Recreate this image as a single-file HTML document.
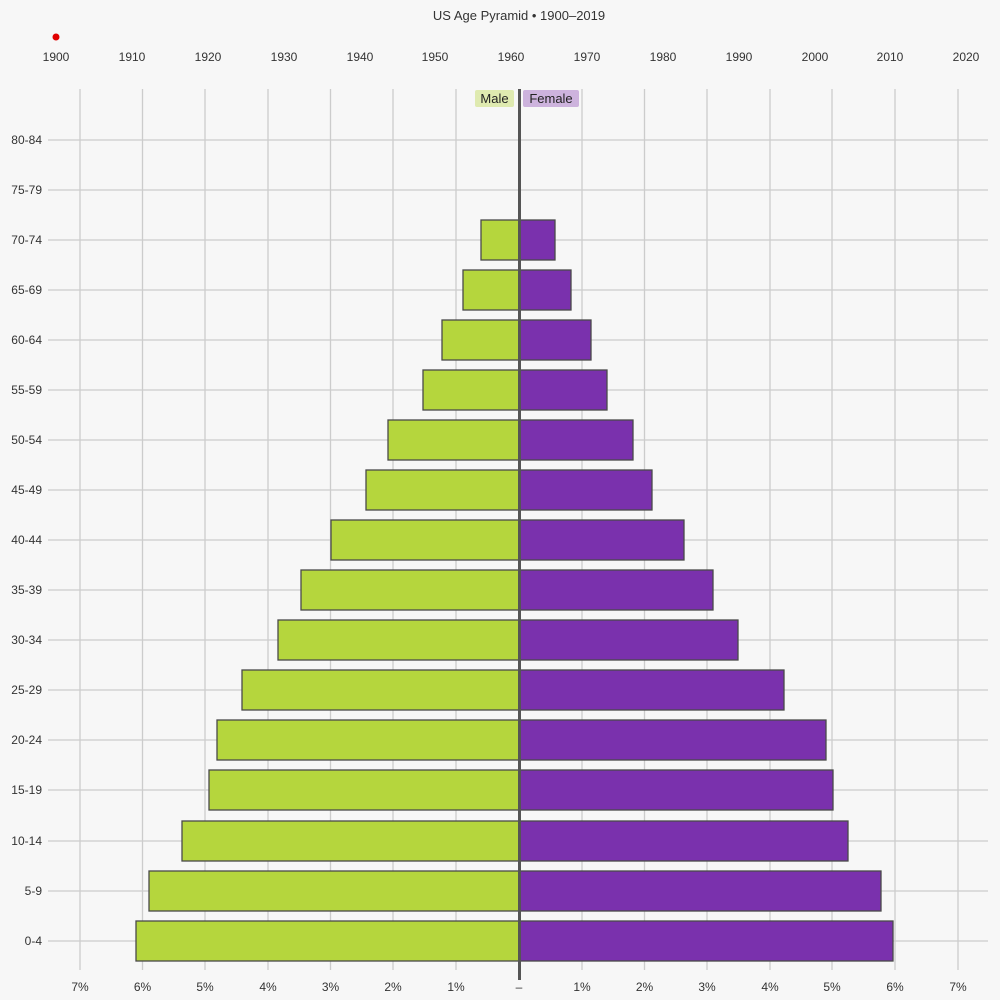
<!DOCTYPE html>
<html><head><meta charset="utf-8"><style>
html,body{margin:0;padding:0;background:#f7f7f7;}
svg{display:block;font-family:"Liberation Sans",sans-serif;}
</style></head><body>
<svg width="1000" height="1000" viewBox="0 0 1000 1000">
<rect width="1000" height="1000" fill="#f7f7f7"/>
<text x="519" y="20" text-anchor="middle" font-size="13" fill="#333">US Age Pyramid • 1900–2019</text>
<circle cx="56" cy="37" r="3.5" fill="#e00000"/>
<g font-size="12" fill="#333" text-anchor="middle">
<text x="56" y="61">1900</text><text x="132" y="61">1910</text><text x="208" y="61">1920</text><text x="284" y="61">1930</text><text x="360" y="61">1940</text><text x="435" y="61">1950</text><text x="511" y="61">1960</text><text x="587" y="61">1970</text><text x="663" y="61">1980</text><text x="739" y="61">1990</text><text x="815" y="61">2000</text><text x="890" y="61">2010</text><text x="966" y="61">2020</text>
</g>
<g stroke="#cccccc" stroke-width="1.3">
<line x1="80" y1="89" x2="80" y2="970"/><line x1="142.5" y1="89" x2="142.5" y2="970"/><line x1="205" y1="89" x2="205" y2="970"/><line x1="268" y1="89" x2="268" y2="970"/><line x1="330.5" y1="89" x2="330.5" y2="970"/><line x1="393" y1="89" x2="393" y2="970"/><line x1="456" y1="89" x2="456" y2="970"/><line x1="582" y1="89" x2="582" y2="970"/><line x1="644.5" y1="89" x2="644.5" y2="970"/><line x1="707" y1="89" x2="707" y2="970"/><line x1="770" y1="89" x2="770" y2="970"/><line x1="832" y1="89" x2="832" y2="970"/><line x1="895" y1="89" x2="895" y2="970"/><line x1="958" y1="89" x2="958" y2="970"/>
<line x1="48" y1="140" x2="988" y2="140"/><line x1="48" y1="190" x2="988" y2="190"/><line x1="48" y1="240" x2="988" y2="240"/><line x1="48" y1="290" x2="988" y2="290"/><line x1="48" y1="340" x2="988" y2="340"/><line x1="48" y1="390" x2="988" y2="390"/><line x1="48" y1="440" x2="988" y2="440"/><line x1="48" y1="490" x2="988" y2="490"/><line x1="48" y1="540" x2="988" y2="540"/><line x1="48" y1="590" x2="988" y2="590"/><line x1="48" y1="640" x2="988" y2="640"/><line x1="48" y1="690" x2="988" y2="690"/><line x1="48" y1="740" x2="988" y2="740"/><line x1="48" y1="790" x2="988" y2="790"/><line x1="48" y1="841" x2="988" y2="841"/><line x1="48" y1="891" x2="988" y2="891"/><line x1="48" y1="941" x2="988" y2="941"/>
</g>
<g font-size="12" fill="#333" text-anchor="end">
<text x="42" y="144">80-84</text><text x="42" y="194">75-79</text><text x="42" y="244">70-74</text><text x="42" y="294">65-69</text><text x="42" y="344">60-64</text><text x="42" y="394">55-59</text><text x="42" y="444">50-54</text><text x="42" y="494">45-49</text><text x="42" y="544">40-44</text><text x="42" y="594">35-39</text><text x="42" y="644">30-34</text><text x="42" y="694">25-29</text><text x="42" y="744">20-24</text><text x="42" y="794">15-19</text><text x="42" y="845">10-14</text><text x="42" y="895">5-9</text><text x="42" y="945">0-4</text>
</g>
<g fill="#b5d63d" stroke="#4a4a4a" stroke-width="1.3">
<rect x="481" y="220" width="38" height="40"/>
<rect x="463" y="270" width="56" height="40"/>
<rect x="442" y="320" width="77" height="40"/>
<rect x="423" y="370" width="96" height="40"/>
<rect x="388" y="420" width="131" height="40"/>
<rect x="366" y="470" width="153" height="40"/>
<rect x="331" y="520" width="188" height="40"/>
<rect x="301" y="570" width="218" height="40"/>
<rect x="278" y="620" width="241" height="40"/>
<rect x="242" y="670" width="277" height="40"/>
<rect x="217" y="720" width="302" height="40"/>
<rect x="209" y="770" width="310" height="40"/>
<rect x="182" y="821" width="337" height="40"/>
<rect x="149" y="871" width="370" height="40"/>
<rect x="136" y="921" width="383" height="40"/>
</g>
<g fill="#7a31ad" stroke="#4a4a4a" stroke-width="1.3">
<rect x="519" y="220" width="36" height="40"/>
<rect x="519" y="270" width="52" height="40"/>
<rect x="519" y="320" width="72" height="40"/>
<rect x="519" y="370" width="88" height="40"/>
<rect x="519" y="420" width="114" height="40"/>
<rect x="519" y="470" width="133" height="40"/>
<rect x="519" y="520" width="165" height="40"/>
<rect x="519" y="570" width="194" height="40"/>
<rect x="519" y="620" width="219" height="40"/>
<rect x="519" y="670" width="265" height="40"/>
<rect x="519" y="720" width="307" height="40"/>
<rect x="519" y="770" width="314" height="40"/>
<rect x="519" y="821" width="329" height="40"/>
<rect x="519" y="871" width="362" height="40"/>
<rect x="519" y="921" width="374" height="40"/>
</g>
<line x1="519.5" y1="89" x2="519.5" y2="980" stroke="#555" stroke-width="3"/>
<rect x="475" y="90" width="39" height="17" rx="2" fill="#dfeab0"/>
<text x="494.5" y="103" text-anchor="middle" font-size="13" fill="#222">Male</text>
<rect x="523" y="90" width="56" height="17" rx="2" fill="#cdb3dd"/>
<text x="551" y="103" text-anchor="middle" font-size="13" fill="#222">Female</text>
<g font-size="12" fill="#333" text-anchor="middle">
<text x="80" y="991">7%</text><text x="142.5" y="991">6%</text><text x="205" y="991">5%</text><text x="268" y="991">4%</text><text x="330.5" y="991">3%</text><text x="393" y="991">2%</text><text x="456" y="991">1%</text><text x="519" y="991">–</text><text x="582" y="991">1%</text><text x="644.5" y="991">2%</text><text x="707" y="991">3%</text><text x="770" y="991">4%</text><text x="832" y="991">5%</text><text x="895" y="991">6%</text><text x="958" y="991">7%</text>
</g>
</svg>
</body></html>
